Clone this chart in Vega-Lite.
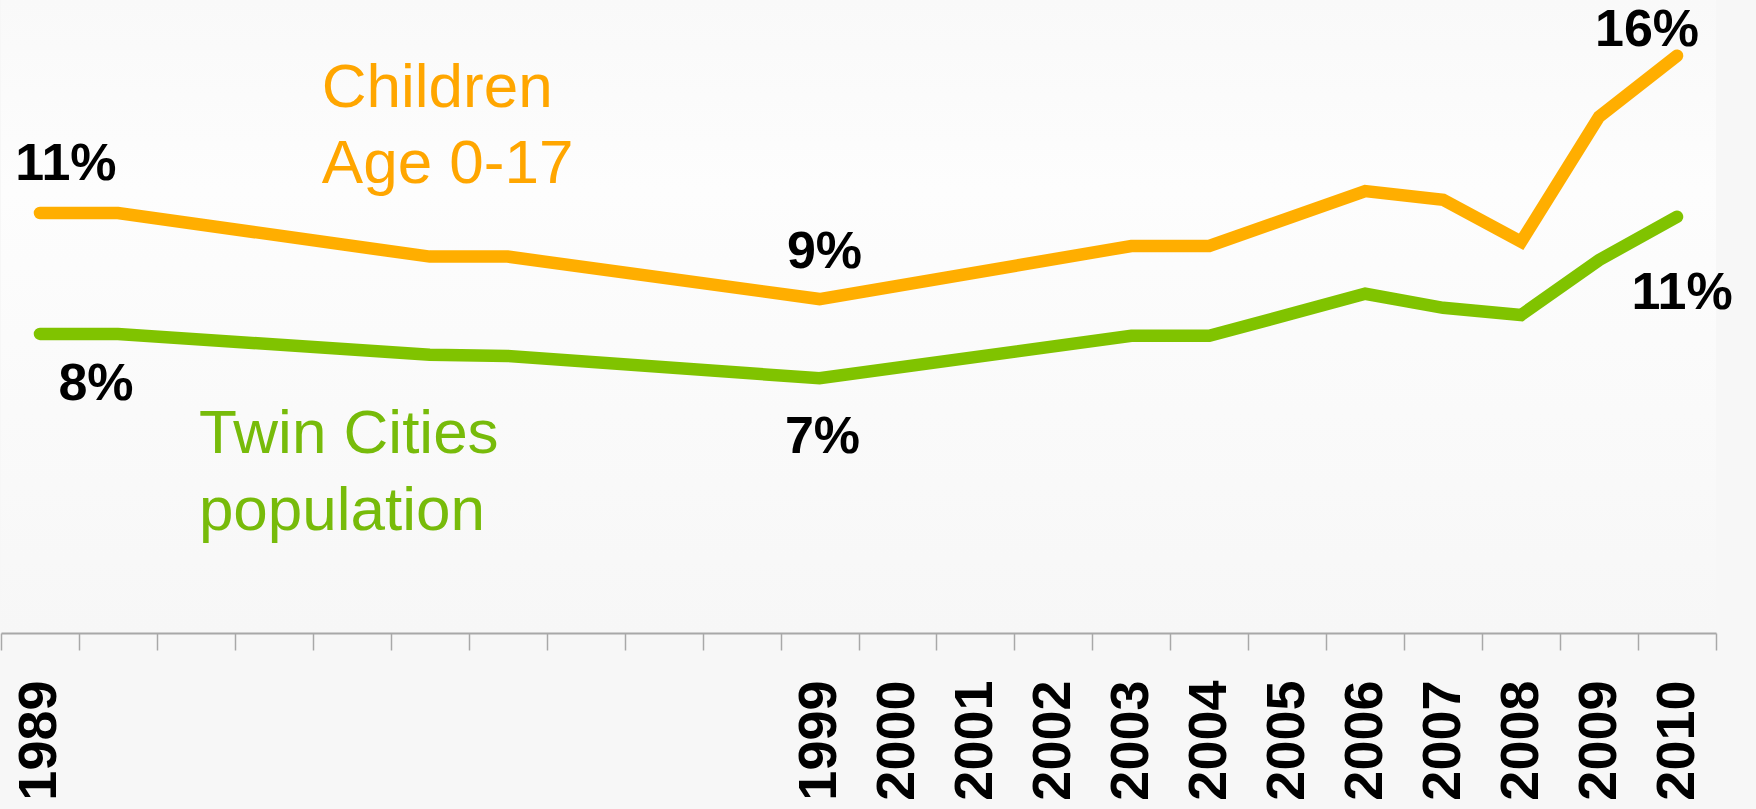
{
  "$schema": "https://vega.github.io/schema/vega-lite/v6.json",
  "autosize": "none",
  "width": 1715,
  "height": 633,
  "padding": {"left": 1, "top": 0, "right": 40, "bottom": 176},
  "background": "#f7f7f7",
  "config": {
    "view": {"stroke": null, "fill": {"gradient": "linear", "x1": 0, "y1": 0, "x2": 0, "y2": 1, "stops": [{"offset": 0, "color": "#f9f9f9"}, {"offset": 0.3, "color": "#fdfdfd"}, {"offset": 1, "color": "#f7f7f7"}]}},
    "font": "Liberation Sans"
  },
  "data": {
    "values": [
      {"year": "1989", "series": "Children", "pct": 11.0, "label": "11%"},
      {"year": "1990", "series": "Children", "pct": 11.0, "label": ""},
      {"year": "1994", "series": "Children", "pct": 9.85, "label": ""},
      {"year": "1995", "series": "Children", "pct": 9.85, "label": ""},
      {"year": "1999", "series": "Children", "pct": 8.73, "label": "9%"},
      {"year": "2003", "series": "Children", "pct": 10.13, "label": ""},
      {"year": "2004", "series": "Children", "pct": 10.13, "label": ""},
      {"year": "2006", "series": "Children", "pct": 11.58, "label": ""},
      {"year": "2007", "series": "Children", "pct": 11.35, "label": ""},
      {"year": "2008", "series": "Children", "pct": 10.24, "label": ""},
      {"year": "2009", "series": "Children", "pct": 13.54, "label": ""},
      {"year": "2010", "series": "Children", "pct": 15.15, "label": "16%"},
      {"year": "1989", "series": "Twin Cities", "pct": 7.81, "label": "8%"},
      {"year": "1990", "series": "Twin Cities", "pct": 7.81, "label": ""},
      {"year": "1994", "series": "Twin Cities", "pct": 7.26, "label": ""},
      {"year": "1995", "series": "Twin Cities", "pct": 7.23, "label": ""},
      {"year": "1999", "series": "Twin Cities", "pct": 6.64, "label": "7%"},
      {"year": "2003", "series": "Twin Cities", "pct": 7.76, "label": ""},
      {"year": "2004", "series": "Twin Cities", "pct": 7.76, "label": ""},
      {"year": "2006", "series": "Twin Cities", "pct": 8.87, "label": ""},
      {"year": "2007", "series": "Twin Cities", "pct": 8.5, "label": ""},
      {"year": "2008", "series": "Twin Cities", "pct": 8.31, "label": ""},
      {"year": "2009", "series": "Twin Cities", "pct": 9.76, "label": ""},
      {"year": "2010", "series": "Twin Cities", "pct": 10.9, "label": "11%"}
    ]
  },
  "encoding": {
    "x": {
      "field": "year", "type": "ordinal",
      "scale": {"type": "band", "paddingInner": 0, "paddingOuter": 0,
        "domain": ["1989","1990","1991","1992","1993","1994","1995","1996","1997","1998","1999","2000","2001","2002","2003","2004","2005","2006","2007","2008","2009","2010"]},
      "axis": {
        "title": null, "orient": "bottom", "tickBand": "extent",
        "domainColor": "#a8a8a8", "domainWidth": 2, "tickColor": "#a8a8a8", "tickWidth": 1.5, "tickSize": 17,
        "labelAngle": 270, "labelFont": "Liberation Sans", "labelFontWeight": "bold", "labelFontSize": 54,
        "labelColor": "#000000", "labelPadding": 30, "labelOverlap": false, "labelBound": false,
        "labelExpr": "datum.value == '1989' || datum.value >= '1999' ? datum.value : ''"
      }
    },
    "y": {
      "field": "pct", "type": "quantitative",
      "scale": {"domain": [-0.08, 16.62], "nice": false, "zero": false},
      "axis": null
    }
  },
  "layer": [
    {
      "mark": {"type": "line", "strokeWidth": 12.5, "strokeCap": "round", "strokeJoin": "miter"},
      "encoding": {
        "color": {"field": "series", "type": "nominal", "scale": {"domain": ["Children", "Twin Cities"], "range": ["#FFAE00", "#80C300"]}, "legend": null}
      }
    },
    {
      "transform": [{"filter": "datum.year == '1989' && datum.series == 'Children'"}],
      "mark": {"type": "text", "fontSize": 52, "fontWeight": "bold", "color": "#000000", "align": "center", "baseline": "alphabetic", "dx": 26, "dy": -33},
      "encoding": {"text": {"field": "label"}}
    },
    {
      "transform": [{"filter": "datum.year == '1989' && datum.series == 'Twin Cities'"}],
      "mark": {"type": "text", "fontSize": 52, "fontWeight": "bold", "color": "#000000", "align": "center", "baseline": "alphabetic", "dx": 56, "dy": 66},
      "encoding": {"text": {"field": "label"}}
    },
    {
      "transform": [{"filter": "datum.year == '1999' && datum.series == 'Children'"}],
      "mark": {"type": "text", "fontSize": 52, "fontWeight": "bold", "color": "#000000", "align": "center", "baseline": "alphabetic", "dx": 5, "dy": -31},
      "encoding": {"text": {"field": "label"}}
    },
    {
      "transform": [{"filter": "datum.year == '1999' && datum.series == 'Twin Cities'"}],
      "mark": {"type": "text", "fontSize": 52, "fontWeight": "bold", "color": "#000000", "align": "center", "baseline": "alphabetic", "dx": 3, "dy": 75},
      "encoding": {"text": {"field": "label"}}
    },
    {
      "transform": [{"filter": "datum.year == '2010' && datum.series == 'Children'"}],
      "mark": {"type": "text", "fontSize": 52, "fontWeight": "bold", "color": "#000000", "align": "center", "baseline": "alphabetic", "dx": -30, "dy": -10},
      "encoding": {"text": {"field": "label"}}
    },
    {
      "transform": [{"filter": "datum.year == '2010' && datum.series == 'Twin Cities'"}],
      "mark": {"type": "text", "fontSize": 52, "fontWeight": "bold", "color": "#000000", "align": "center", "baseline": "alphabetic", "dx": 5, "dy": 92},
      "encoding": {"text": {"field": "label"}}
    },
    {
      "transform": [{"filter": "datum.year == '1989' && datum.series == 'Children'"}],
      "mark": {"type": "text", "fontSize": 62, "color": "#FFA600", "align": "left", "baseline": "alphabetic", "lineHeight": 76, "dx": -30},
      "encoding": {
        "x": {"datum": "1993"},
        "y": {"datum": 13.8},
        "text": {"value": ["Children", "Age 0-17"]}
      }
    },
    {
      "transform": [{"filter": "datum.year == '1989' && datum.series == 'Twin Cities'"}],
      "mark": {"type": "text", "fontSize": 62, "color": "#77BB0A", "align": "left", "baseline": "alphabetic", "lineHeight": 77, "dx": 3},
      "encoding": {
        "x": {"datum": "1991"},
        "y": {"datum": 4.66},
        "text": {"value": ["Twin Cities", "population"]}
      }
    }
  ]
}
